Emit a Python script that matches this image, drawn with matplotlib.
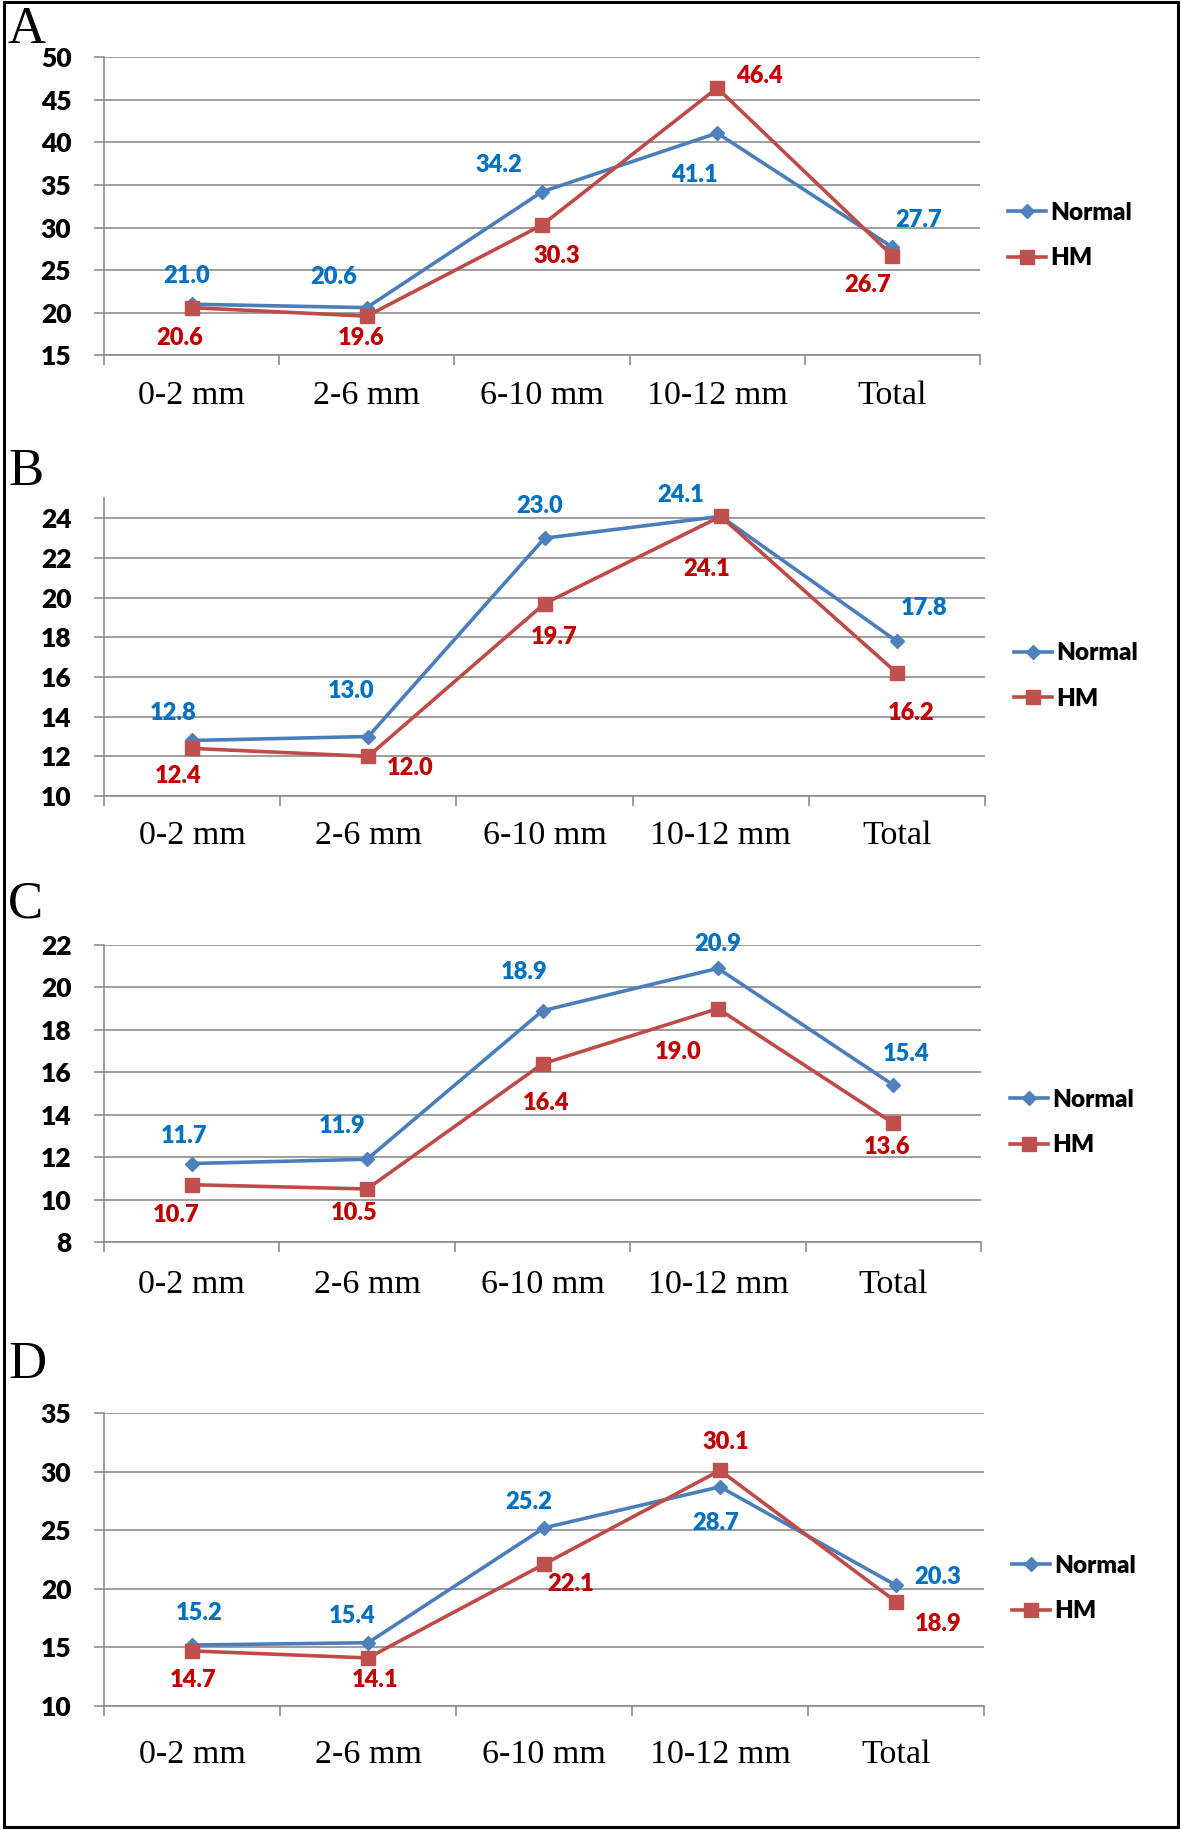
import numpy as np
import matplotlib
matplotlib.use("Agg")
import matplotlib.pyplot as plt
from matplotlib.patches import Rectangle

# ---------------- data ----------------
categories = ["0-2 mm", "2-6 mm", "6-10 mm", "10-12 mm", "Total"]
series_names = ["Normal", "HM"]
panel_letters = ["A", "B", "C", "D"]

normal_A = [21.0, 20.6, 34.2, 41.1, 27.7]
hm_A = [20.6, 19.6, 30.3, 46.4, 26.7]
normal_B = [12.8, 13.0, 23.0, 24.1, 17.8]
hm_B = [12.4, 12.0, 19.7, 24.1, 16.2]
normal_C = [11.7, 11.9, 18.9, 20.9, 15.4]
hm_C = [10.7, 10.5, 16.4, 19.0, 13.6]
normal_D = [15.2, 15.4, 25.2, 28.7, 20.3]
hm_D = [14.7, 14.1, 22.1, 30.1, 18.9]

yticks_A = [15, 20, 25, 30, 35, 40, 45, 50]
yticks_B = [10, 12, 14, 16, 18, 20, 22, 24]
yticks_C = [8, 10, 12, 14, 16, 18, 20, 22]
yticks_D = [10, 15, 20, 25, 30, 35]

# ---------------- layout / style ----------------
W, H, DPI = 1181, 1830, 100
fig = plt.figure(figsize=(W / DPI, H / DPI), dpi=DPI)
fig.patch.set_facecolor("white")

BLUE_LINE, BLUE_MK, BLUE_TXT = "#4A7EBB", "#4F81BD", "#0070C0"
RED_LINE, RED_MK, RED_TXT = "#BE4B48", "#C0504D", "#C00000"
GRID = "#8C8C8C"
SANS = "Lato"
HEAVY = "heavy"


def rect(l, t, r, b):
    return [l / W, 1 - b / H, (r - l) / W, (b - t) / H]


# label offsets in pixels (dx, dy; +dy = downward)
off_A = ([(-5, -28), (-33, -31), (-43, -27), (-23, 42), (26, -27)],
         [(-12, 30), (-6, 22), (15, 31), (42, -12), (-25, 29)])
off_B = ([(-19, -27), (-17, -46), (-5, -32), (-40, -21), (27, -33)],
         [(-14, 28), (42, 12), (10, 33), (-14, 53), (14, 40)])
off_C = ([(-8, -28), (-25, -33), (-18, -39), (0, -24), (13, -31)],
         [(-16, 30), (-13, 24), (4, 39), (-40, 43), (-6, 24)])
off_D = ([(7, -32), (-16, -27), (-15, -26), (-4, 36), (42, -8)],
         [(1, 29), (7, 22), (27, 20), (6, -28), (42, 22)])

panels = [
    dict(letter=panel_letters[0], normal=normal_A, hm=hm_A, yticks=yticks_A, ylim=(15, 50),
         box=(104, 57.3, 980, 355.3), xpad=38, leg=(1008, 235.5), base=43, off=off_A),
    dict(letter=panel_letters[1], normal=normal_B, hm=hm_B, yticks=yticks_B, ylim=(10, 25),
         box=(104, 498.5, 985, 796), xpad=37, leg=(1014, 676), base=485, off=off_B),
    dict(letter=panel_letters[2], normal=normal_C, hm=hm_C, yticks=yticks_C, ylim=(8, 22),
         box=(104, 945, 981, 1242), xpad=40, leg=(1010, 1122.5), base=917, off=off_C),
    dict(letter=panel_letters[3], normal=normal_D, hm=hm_D, yticks=yticks_D, ylim=(10, 35),
         box=(104, 1413, 984, 1706), xpad=46, leg=(1012, 1588.5), base=1378, off=off_D),
]

label_font = dict(family=SANS, weight=HEAVY, size=17)

for p in panels:
    ax = fig.add_axes(rect(*p["box"]))
    x = np.arange(len(categories))
    ax.plot(x, p["normal"], color=BLUE_LINE, lw=2.6, marker="D", ms=7,
            mfc=BLUE_MK, mec=BLUE_MK, zorder=3, label=series_names[0], clip_on=False)
    ax.plot(x, p["hm"], color=RED_LINE, lw=2.6, marker="s", ms=9.5,
            mfc=RED_MK, mec=RED_MK, zorder=3, label=series_names[1], clip_on=False)

    ax.set_xlim(-0.5, len(categories) - 0.5)
    ax.set_ylim(*p["ylim"])
    ax.set_yticks(p["yticks"])
    ax.yaxis.grid(True, color=GRID, lw=1.2)
    ax.set_axisbelow(True)
    for s in ("top", "right"):
        ax.spines[s].set_visible(False)
    for s in ("left", "bottom"):
        ax.spines[s].set_color(GRID)
        ax.spines[s].set_linewidth(1.2)

    ax.set_xticks(x)
    ax.set_xticklabels(categories)
    ax.set_xticks(np.arange(-0.5, len(categories), 1.0), minor=True)
    ax.tick_params(axis="x", which="major", length=0, pad=p["xpad"] * 0.72 + 2)
    ax.tick_params(axis="x", which="minor", length=7, width=1.2, color=GRID)
    ax.tick_params(axis="y", which="major", length=7, width=1.2, color=GRID, pad=16.5)
    for lbl in ax.get_xticklabels():
        lbl.set_fontfamily("Liberation Serif")
        lbl.set_fontsize(24.5)
        lbl.set_va("center")
    for lbl in ax.get_yticklabels():
        lbl.set_fontfamily(SANS)
        lbl.set_fontweight(HEAVY)
        lbl.set_fontsize(19)

    offs_n, offs_h = p["off"]
    for i, v in enumerate(p["normal"]):
        dx, dy = offs_n[i]
        ax.annotate(f"{v:.1f}", xy=(i, v), xytext=(dx, -dy), textcoords="offset pixels",
                    ha="center", va="center", color=BLUE_TXT, **label_font)
    for i, v in enumerate(p["hm"]):
        dx, dy = offs_h[i]
        ax.annotate(f"{v:.1f}", xy=(i, v), xytext=(dx, -dy), textcoords="offset pixels",
                    ha="center", va="center", color=RED_TXT, **label_font)

    lx, ly = p["leg"]
    ax.legend(loc="center left", bbox_to_anchor=(lx / W, 1 - ly / H),
              bbox_transform=fig.transFigure, frameon=False,
              prop=dict(family=SANS, weight=HEAVY, size=17.5),
              handlelength=1.55, handletextpad=0.2, labelspacing=0.95,
              borderpad=0, borderaxespad=0, numpoints=1)

    fig.text(8 / W, 1 - p["base"] / H, p["letter"], family="Liberation Serif",
             fontsize=38, ha="left", va="baseline")

# outer frame
fig.add_artist(Rectangle((3.5 / W, 1 - 1826.5 / H), (1177.5 - 3.5) / W, (1826.5 - 1.5) / H,
                         transform=fig.transFigure, fill=False, ec="black", lw=2.2))

fig.savefig("out.png", dpi=DPI, facecolor="white")
